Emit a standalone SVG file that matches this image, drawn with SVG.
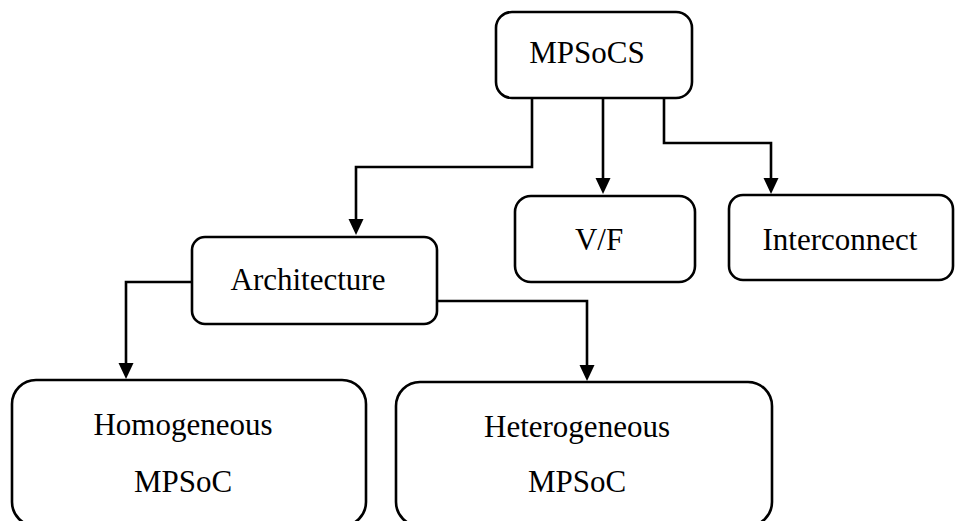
<svg xmlns="http://www.w3.org/2000/svg" width="955" height="521" viewBox="0 0 955 521">
  <style>
    .box { fill: #ffffff; stroke: #000000; stroke-width: 2.6; }
    .wire { fill: none; stroke: #000000; stroke-width: 2.6; marker-end: url(#arrow); }
    .lbl { font-family: "Liberation Serif", "Times New Roman", serif; font-size: 31px; fill: #000000; text-anchor: middle; }
  </style>
  <defs>
    <marker id="arrow" markerUnits="userSpaceOnUse" markerWidth="17" markerHeight="16" viewBox="0 -8 17 16" refX="0" refY="0" orient="auto" overflow="visible">
      <path d="M0,-7.5 L16,0 L0,7.5 Z" fill="#000000"/>
    </marker>
  </defs>

  <rect width="955" height="521" fill="#ffffff"/>

  <g id="connectors">
    <!-- MPSoCS to Architecture -->
    <path class="wire" d="M532,98 V167 H356 V219"/>
    <!-- MPSoCS to V/F -->
    <path class="wire" d="M603,98 V178"/>
    <!-- MPSoCS to Interconnect -->
    <path class="wire" d="M664,98 V143 H771 V178"/>
    <!-- Architecture to Homogeneous -->
    <path class="wire" d="M192,282 H126 V363"/>
    <!-- Architecture to Heterogeneous -->
    <path class="wire" d="M437,301 H587 V365"/>
  </g>

  <g id="mpsocs">
    <rect class="box" x="496" y="12" width="196" height="86" rx="16"/>
    <text class="lbl" x="587" y="63">MPSoCS</text>
  </g>

  <g id="vf">
    <rect class="box" x="515" y="196" width="180" height="86" rx="16"/>
    <text class="lbl" x="599" y="250">V/F</text>
  </g>

  <g id="interconnect">
    <rect class="box" x="729" y="195" width="224" height="85" rx="14"/>
    <text class="lbl" x="840" y="250">Interconnect</text>
  </g>

  <g id="architecture">
    <rect class="box" x="192" y="237" width="245" height="87" rx="13"/>
    <text class="lbl" x="308" y="290">Architecture</text>
  </g>

  <g id="homogeneous">
    <rect class="box" x="12" y="380" width="354" height="146" rx="24"/>
    <text class="lbl" x="183" y="435">Homogeneous</text>
    <text class="lbl" x="183" y="492">MPSoC</text>
  </g>

  <g id="heterogeneous">
    <rect class="box" x="396" y="382" width="376" height="144" rx="24"/>
    <text class="lbl" x="577" y="437">Heterogeneous</text>
    <text class="lbl" x="577" y="492">MPSoC</text>
  </g>
</svg>
